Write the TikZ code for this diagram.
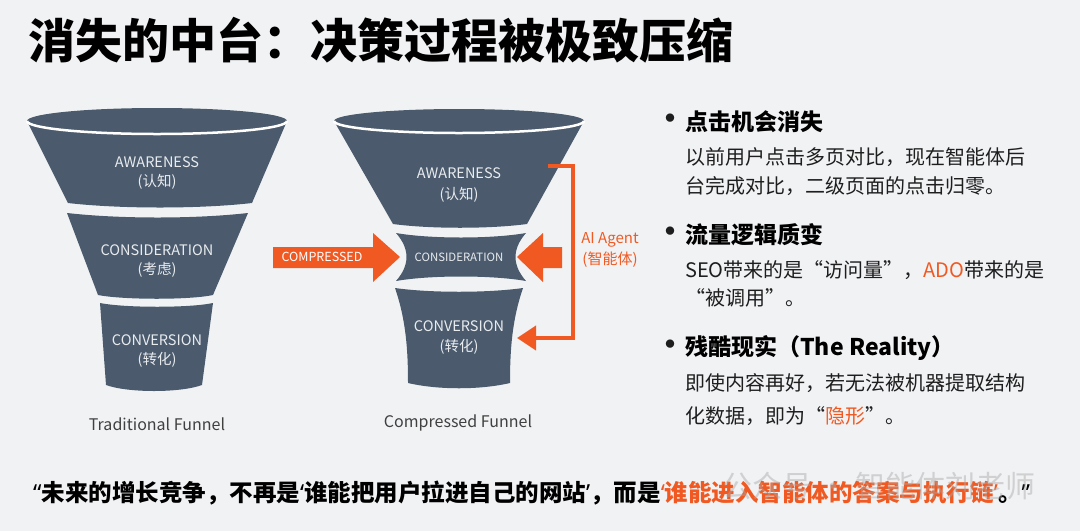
\documentclass[tikz,border=0pt]{standalone}
\usepackage{fontspec}
\setmainfont{Noto Sans CJK SC}
\newfontfamily\qfont{Noto Sans}
\newcommand\qoL{{\qfont “}}
\newcommand\qoR{{\qfont ”}}
\newcommand\qsL{{\qfont ‘}}
\newcommand\qsR{{\qfont ’}}
\usetikzlibrary{arrows.meta}
\definecolor{bg}{HTML}{F1F2F4}
\definecolor{funnel}{HTML}{4B5B6D}
\definecolor{ftext}{HTML}{E9ECEF}
\definecolor{accent}{HTML}{F05A22}
\definecolor{ink}{HTML}{1E1E1E}
\definecolor{wm}{HTML}{A8A8A8}
\begin{document}
\begin{tikzpicture}[x=1pt,y=1pt,
  seg/.style={fill=funnel},
  rim/.style={draw=white, line width=2.5pt},
  flabel/.style={text=ftext, inner sep=0pt, font=\fontsize{14.5}{16}\selectfont},
  fsmall/.style={text=ftext, inner sep=0pt, font=\fontsize{11.4}{13}\selectfont},
  caption/.style={text=ink!85, inner sep=0pt, font=\fontsize{16}{18}\selectfont},
  bigarrow/.style={fill=accent},
  agentline/.style={draw=accent, line width=4pt, -{Triangle[length=19pt,width=24pt]}},
  dot/.style={text=ink, inner sep=0pt, font=\fontsize{30}{30}\selectfont\bfseries},
  head/.style={text=black, inner sep=0pt, anchor=west, font=\fontsize{23}{28}\selectfont\bfseries},
  body/.style={text=ink, inner sep=0pt, anchor=west, font=\fontsize{20}{28}\selectfont},
]
\fill[bg] (0,0) rectangle (1080,-531);
\useasboundingbox (0,0) rectangle (1080,-531);

% title
\node[anchor=west, inner sep=0pt, font=\fontsize{47}{52}\selectfont\bfseries] (title) at (28,-40) {消失的中台：决策过程被极致压缩};

% ---------- Traditional funnel ----------
\fill[seg] (27,-121) -- (68,-203) .. controls (120,-209) and (200,-209) .. (252,-203) -- (287,-121)
  arc[start angle=0, end angle=180, x radius=130pt, y radius=13pt] -- cycle;
\draw[rim] (27,-121) arc[start angle=180, end angle=360, x radius=130pt, y radius=13pt];
\fill[seg] (67,-213) .. controls (120,-219) and (195,-219) .. (248,-213) -- (213,-295)
  .. controls (190,-300) and (124,-300) .. (98,-295) -- cycle;
\fill[seg] (100,-303) .. controls (125,-308) and (190,-308) .. (213,-303) -- (202,-385)
  .. controls (180,-393) and (128,-393) .. (106,-385) -- cycle;
\node[flabel] (tA) at (157,-162) {AWARENESS};
\node[flabel] (tAc) at (157,-182) {(认知)};
\node[flabel] (tB) at (157,-250) {CONSIDERATION};
\node[flabel] (tBc) at (157,-270) {(考虑)};
\node[flabel] (tC) at (157,-340) {CONVERSION};
\node[flabel] (tCc) at (157,-360) {(转化)};
\node[caption] (tcap) at (157,-424) {Traditional Funnel};

% ---------- Compressed funnel ----------
\fill[seg] (334,-121) -- (393,-224) .. controls (430,-229) and (490,-229) .. (527,-224) -- (584,-121)
  arc[start angle=0, end angle=180, x radius=125pt, y radius=12pt] -- cycle;
\draw[rim] (334,-121) arc[start angle=180, end angle=360, x radius=125pt, y radius=12pt];
\fill[seg] (396,-233) .. controls (430,-239) and (492,-239) .. (526,-233)
  .. controls (512,-249) and (512,-265) .. (526,-281)
  .. controls (492,-275) and (430,-275) .. (396,-281)
  .. controls (410,-265) and (410,-249) .. (396,-233) -- cycle;
\fill[seg] (395,-288) .. controls (430,-293) and (488,-293) .. (523,-288)
  .. controls (512,-320) and (510,-350) .. (510,-383)
  .. controls (480,-390) and (438,-390) .. (408,-383)
  .. controls (408,-350) and (406,-320) .. (395,-288) -- cycle;
\node[flabel] (cA) at (459,-173) {AWARENESS};
\node[flabel] (cAc) at (459,-195) {(认知)};
\node[fsmall] (cB) at (459,-257) {CONSIDERATION};
\node[flabel] (cC) at (459,-326) {CONVERSION};
\node[flabel] (cCc) at (459,-347) {(转化)};
\node[caption] (ccap) at (458,-423) {Compressed Funnel};

% compress arrows
\fill[bigarrow] (273,-247) -- (373,-247) -- (373,-233) -- (400,-257) -- (373,-282) -- (373,-268) -- (273,-268) -- cycle;
\node[text=white, inner sep=0pt, font=\fontsize{12.5}{14}\selectfont] (comp) at (322,-257) {COMPRESSED};
\fill[bigarrow] (562,-247) -- (543,-247) -- (543,-233) -- (517,-257) -- (543,-282) -- (543,-268) -- (562,-268) -- cycle;

% AI agent bracket
\coordinate (agS) at (548,-166);
\coordinate (agE) at (517,-338);
\draw[agentline] (agS) -- (573,-166) -- (573,-338) -- (agE);
\node[text=accent, inner sep=0pt, font=\fontsize{15}{18}\selectfont] (ag1) at (610,-240) {AI Agent};
\node[text=accent, inner sep=0pt, font=\fontsize{15}{18}\selectfont] (ag2) at (610,-260) {(智能体)};

% ---------- bullets ----------
\node[dot] (d1) at (670,-122) {•};
\node[head] (h1) at (685,-122) {点击机会消失};
\node[body] (l1a) at (685,-157) {以前用户点击多页对比，现在智能体后};
\node[body] (l1b) at (685,-186) {台完成对比，二级页面的点击归零。};

\node[dot] (d2) at (670,-235) {•};
\node[head] (h2) at (685,-235) {流量逻辑质变};
\node[body] (l2a) at (685,-270) {SEO带来的是“访问量”，\textcolor{accent}{ADO}带来的是};
\node[body] (l2b) at (685,-298) {“被调用”。};

\node[dot] (d3) at (670,-348) {•};
\node[head] (h3) at (685,-348) {残酷现实（The Reality）};
\node[body] (l3a) at (685,-383) {即使内容再好，若无法被机器提取结构};
\node[body] (l3b) at (685,-416) {化数据，即为“\textcolor{accent}{隐形}”。};

% ---------- quote ----------
\node[anchor=west, inner sep=0pt, text=black, font=\fontsize{23.5}{28}\selectfont\bfseries] (quote) at (33,-493)
  {\qoL 未来的增长竞争，不再是\qsL 谁能把用户拉进自己的网站\qsR ，而是\textcolor{accent}{\qsL 谁能进入智能体的答案与执行链\qsR}。\qoR};

% watermark
\node[anchor=west, inner sep=0pt, text=wm, opacity=0.45, font=\fontsize{30}{34}\selectfont] (wmk) at (722,-486) {公众号 · 智能体刘老师};
\end{tikzpicture}
\end{document}
